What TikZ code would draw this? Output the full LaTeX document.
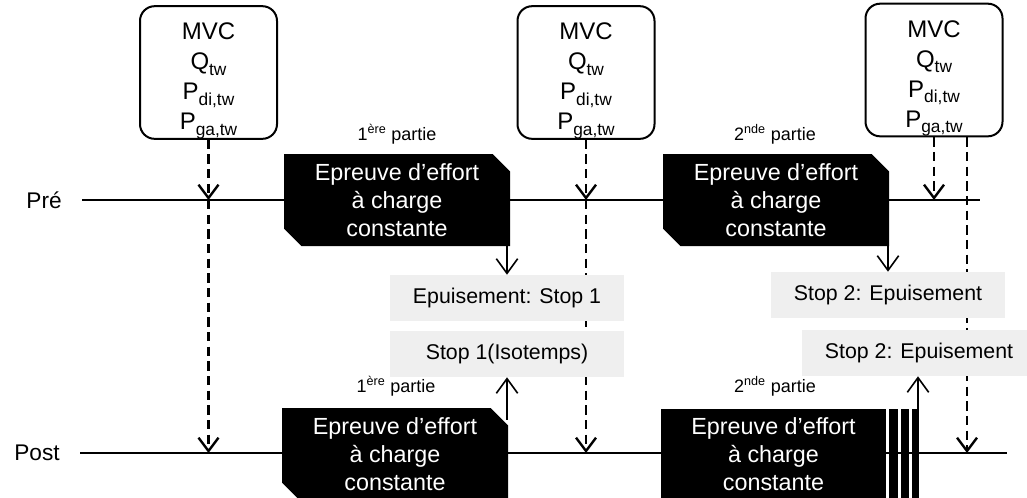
\documentclass[tikz,border=0pt]{standalone}
\usepackage{fontspec}
\setmainfont{Liberation Sans}
\usepackage{xcolor}
\usepackage{tikz}
\usetikzlibrary{arrows.meta,positioning,shapes.misc}
\definecolor{stopgray}{HTML}{EFEFEF}
\newcommand{\sbs}[1]{\raisebox{-0.45ex}{\fontsize{13}{14}\selectfont #1}}
\tikzset{
  mvcbox/.style={draw=black, line width=1.5pt, rounded corners=11pt, align=center, font=\fontsize{18}{22.5}\selectfont, inner sep=0pt, minimum width=102.75pt, minimum height=90.75pt},
  testbox/.style={fill=black, text=white, align=center, font=\fontsize{17.5}{21}\selectfont, inner sep=0pt, minimum width=169.5pt, minimum height=69pt},
  chamf/.style={chamfered rectangle, chamfered rectangle corners={north east,south west}, chamfered rectangle sep=6.5pt},
  stopbox/.style={fill=stopgray, font=\fontsize{16}{19}\selectfont, inner sep=0pt, minimum width=175.5pt, minimum height=34.5pt},
  partlbl/.style={font=\fontsize{13.5}{16}\selectfont, inner sep=0pt},
  phaselbl/.style={font=\fontsize{17}{20}\selectfont, inner sep=0pt},
  tline/.style={line width=1.5pt},
  darr/.style={-{Straight Barb[length=10pt,width=15pt]}, line width=1.8pt, dash pattern=on 7pt off 4pt},
  sarr/.style={-{Straight Barb[length=11pt,width=16pt]}, line width=1.2pt}
}
\begin{document}
\begin{tikzpicture}[x=0.75pt,y=-0.75pt]
\useasboundingbox (0,0) rectangle (1027,497);
% measures
\node[mvcbox] (mvc1) at (208.5,72.5) {\rule{0pt}{25pt}MVC\\Q\sbs{tw}\\P\sbs{di,tw}\\P\sbs{ga,tw}};
\node[mvcbox] (mvc2) at (586,72.5) {\rule{0pt}{25pt}MVC\\Q\sbs{tw}\\P\sbs{di,tw}\\P\sbs{ga,tw}};
\node[mvcbox] (mvc3) at (934,70) {\rule{0pt}{25pt}MVC\\Q\sbs{tw}\\P\sbs{di,tw}\\P\sbs{ga,tw}};
\coordinate (preS) at (82,200); \coordinate (preE) at (980,200);
\coordinate (postS) at (80,453); \coordinate (postE) at (1007,453);
\coordinate (m3b) at ([xshift=24.75pt]mvc3.south);
\node[phaselbl, left=15pt of preS] (pre) {Pré};
\node[phaselbl, left=15pt of postS] (post) {Post};
\draw[darr] (mvc1.south) -- (mvc1.south |- preS);
\draw[darr] (mvc1.south |- preS) -- (mvc1.south |- postS);
\draw[darr] (mvc2.south) -- (mvc2.south |- preS);
\draw[darr] (mvc2.south |- preS) -- (mvc2.south |- postS);
\draw[darr] (mvc3.south) -- (mvc3.south |- preS);
\draw[darr] (m3b) -- (m3b |- postS);
\draw[tline] (preS) -- (preE);
\draw[tline] (postS) -- (postE);
% exercise tests
\node[testbox, chamf] (tb1) at (397,200) {Epreuve d’effort\\à charge\\constante};
\node[testbox, chamf] (tb2) at (776,200) {Epreuve d’effort\\à charge\\constante};
\node[testbox, chamf] (pb1) at (395,454) {Epreuve d’effort\\à charge\\constante};
\node[testbox, minimum width=168.75pt] (pb2) at (773.5,454.5) {Epreuve d’effort\\à charge\\constante};
\foreach \xa/\xb in {889/898,901/909,912/919}
  \fill (\xa,409) rectangle (\xb,500);
\node[partlbl] (part1) at (397,134) {1\textsuperscript{ère} partie};
\node[partlbl] (part2) at (775,134) {2\textsuperscript{nde} partie};
\node[partlbl] (part3) at (396,386) {1\textsuperscript{ère} partie};
\node[partlbl] (part4) at (775,386) {2\textsuperscript{nde} partie};
% stops
\node[stopbox] (ep1) at (507,298) {Epuisement: Stop 1};
\node[stopbox] (iso1) at (507,354) {Stop 1(Isotemps)};
\node[stopbox] (ep2) at (888,295) {Stop 2: Epuisement};
\node[stopbox] (ep2b) at (919,353) {Stop 2: Epuisement};
\coordinate (barTop) at (918,409);
\draw[sarr] (ep1.north |- tb1.south) -- (ep1.north);
\draw[sarr] (ep2.north |- tb2.south) -- (ep2.north);
\draw[sarr] ([yshift=-9pt]iso1.south |- pb1.north) -- (iso1.south);
\draw[sarr] (barTop) -- (barTop |- ep2b.south);
\end{tikzpicture}
\end{document}
